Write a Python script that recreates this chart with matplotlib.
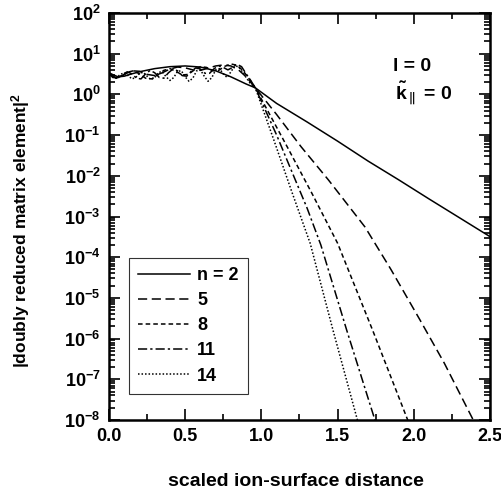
import numpy as np
import matplotlib
matplotlib.use("Agg")
import matplotlib.pyplot as plt
from matplotlib.ticker import FixedLocator, FixedFormatter, LogLocator, NullFormatter, MultipleLocator

plt.rcParams['font.family'] = ['Liberation Sans', 'DejaVu Sans']
plt.rcParams['font.weight'] = 'bold'
plt.rcParams['axes.labelweight'] = 'bold'
plt.rcParams['mathtext.fontset'] = 'custom'
plt.rcParams['mathtext.rm'] = 'Liberation Sans:bold'
plt.rcParams['mathtext.it'] = 'Liberation Sans:bold'
plt.rcParams['mathtext.bf'] = 'Liberation Sans:bold'

# ---- data ----
x_n2 = [0, 0.03, 0.06, 0.1, 0.15, 0.2, 0.3, 0.4, 0.5, 0.6, 0.7, 0.8, 0.9, 0.96,
        1.1, 1.3, 1.5, 1.7, 1.9, 2.1, 2.3, 2.5]
y_n2 = [3.4, 3.0, 2.7, 2.8, 3.2, 3.6, 4.3, 4.8, 5.0, 4.7, 3.8, 2.7, 1.8, 1.45,
        0.6, 0.21, 0.071, 0.023, 0.008, 0.0027, 0.00093, 0.00032]

x_n5 = [0, 0.05, 0.1, 0.15, 0.2, 0.25, 0.3, 0.35, 0.4, 0.45, 0.5, 0.55, 0.6, 0.65,
        0.7, 0.75, 0.8, 0.85, 0.9, 0.96, 1.1, 1.26, 1.44, 1.68, 1.85, 2.04, 2.2, 2.39, 2.42]
y_n5 = [3.3, 2.5, 3.1, 3.8, 3.7, 3.1, 2.9, 3.4, 4.2, 4.7, 4.5, 4.0, 3.9, 4.4,
        5.0, 5.3, 5.0, 4.0, 2.7, 1.45, 0.32, 0.052, 0.0079, 5.5e-4, 5.0e-5, 2.9e-6, 2.5e-7, 1.0e-8, 7e-9]

x_n8 = [0, 0.04, 0.08, 0.12, 0.16, 0.2, 0.24, 0.28, 0.32, 0.36, 0.4, 0.44, 0.48, 0.52,
        0.56, 0.6, 0.64, 0.68, 0.72, 0.76, 0.8, 0.84, 0.88, 0.92, 0.96,
        1.17, 1.33, 1.5, 1.73, 1.96, 2.0]
y_n8 = [3.2, 2.5, 2.7, 3.5, 3.8, 3.2, 2.5, 2.4, 3.0, 3.9, 4.3, 3.7, 3.0, 3.1,
        4.0, 4.8, 4.6, 3.8, 3.9, 4.9, 5.6, 5.2, 3.8, 2.4, 1.45,
        0.051, 0.0038, 2.2e-4, 1.6e-6, 1.0e-8, 4e-9]

x_n11 = [0, 0.03, 0.06, 0.09, 0.12, 0.15, 0.18, 0.21, 0.24, 0.27, 0.3, 0.33, 0.36, 0.39,
         0.42, 0.45, 0.48, 0.51, 0.54, 0.57, 0.6, 0.63, 0.66, 0.69, 0.72, 0.75, 0.78,
         0.81, 0.84, 0.87, 0.9, 0.93, 0.96, 1.1, 1.2, 1.3, 1.39, 1.56, 1.745, 1.78]
y_n11 = [3.1, 2.6, 2.5, 3.1, 3.6, 3.2, 2.5, 2.4, 3.2, 3.9, 3.4, 2.6, 2.5, 3.4,
         4.2, 3.8, 2.9, 2.8, 3.7, 4.5, 4.2, 3.3, 3.3, 4.3, 5.0, 4.6, 4.0,
         4.6, 5.5, 4.8, 3.2, 2.2, 1.45, 0.1, 0.0126, 1.6e-3, 2.0e-4, 1.6e-6, 1.0e-8, 4e-9]

x_n14 = [0, 0.025, 0.05, 0.075, 0.1, 0.125, 0.15, 0.175, 0.2, 0.225, 0.25, 0.275, 0.3,
         0.325, 0.35, 0.375, 0.4, 0.425, 0.45, 0.475, 0.5, 0.525, 0.55, 0.575, 0.6,
         0.625, 0.65, 0.675, 0.7, 0.725, 0.75, 0.775, 0.8, 0.825, 0.85, 0.875, 0.9,
         0.925, 0.96, 1.08, 1.2, 1.32, 1.47, 1.63, 1.66]
y_n14 = [3.0, 2.6, 2.6, 3.1, 3.4, 2.9, 2.4, 2.6, 3.3, 3.5, 2.8, 2.3, 2.6,
         3.5, 3.6, 2.7, 2.2, 2.6, 3.7, 3.8, 2.7, 2.1, 2.5, 3.8, 4.0,
         2.8, 2.1, 2.6, 4.0, 4.3, 3.2, 2.6, 3.6, 5.0, 4.8, 3.6, 2.6,
         1.9, 1.45, 0.079, 4.0e-3, 2.2e-4, 1.6e-6, 1.0e-8, 4e-9]

labels = ["n = 2", "5", "8", "11", "14"]
y_exponents = [2, 1, 0, -1, -2, -3, -4, -5, -6, -7, -8]
x_ticks = [0.0, 0.5, 1.0, 1.5, 2.0, 2.5]
x_ticklabels = ["0.0", "0.5", "1.0", "1.5", "2.0", "2.5"]

# ---- figure ----
fig = plt.figure(figsize=(5.02, 4.95), dpi=100)
ax = fig.add_axes([109/502, 1-420/495, (490-109)/502, (420-13)/495])

styles = ['-', (0, (6, 3)), (0, (3, 2)), (0, (6, 2, 1.5, 2)), (0, (1, 1.3))]
series = [(x_n2, y_n2), (x_n5, y_n5), (x_n8, y_n8), (x_n11, y_n11), (x_n14, y_n14)]
for (xs, ys), ls, lab in zip(series, styles, labels):
    ax.plot(xs, ys, color='black', linestyle=ls, linewidth=1.1, label=lab)

ax.set_yscale('log')
ax.set_xlim(0, 2.5)
ax.set_ylim(1e-8, 1e2)

ax.yaxis.set_major_locator(FixedLocator([10.0**e for e in y_exponents]))
ax.yaxis.set_major_formatter(FixedFormatter([r'$\mathregular{10^{%d}}$' % e for e in y_exponents]))
ax.yaxis.set_minor_locator(LogLocator(base=10, subs=np.arange(2, 10), numticks=100))
ax.yaxis.set_minor_formatter(NullFormatter())

ax.xaxis.set_major_locator(FixedLocator(x_ticks))
ax.xaxis.set_major_formatter(FixedFormatter(x_ticklabels))
ax.xaxis.set_minor_locator(MultipleLocator(0.25))

ax.tick_params(which='both', direction='in', top=True, right=True, width=1.2)
ax.tick_params(which='major', length=8, labelsize=13, pad=6)
ax.tick_params(which='minor', length=4)
for s in ax.spines.values():
    s.set_linewidth(1.8)

ax.set_xlabel('scaled ion-surface distance', fontsize=14)
ax.xaxis.set_label_coords((296 - 109) / 381, (420 - 490) / 407)
ax.xaxis.label.set_va('bottom')
ax.set_ylabel(r'|doubly reduced matrix element|$^2$', fontsize=12.5)
ax.yaxis.set_label_coords((32 - 109) / 381, (420 - 231) / 407)

ax.text(0.745, 0.858, 'l = 0', transform=ax.transAxes, fontsize=14)
ax.text(0.75, 0.79, r'$\tilde{\mathregular{k}}_{\parallel}$ = 0', transform=ax.transAxes, fontsize=14)

leg = ax.legend(loc='upper left', bbox_to_anchor=((129 - 109) / 381, (420 - 258) / 407),
                frameon=True, fancybox=False, shadow=False, fontsize=13, handlelength=2.9,
                handletextpad=0.38, labelspacing=0.45, borderaxespad=0, borderpad=0.5)
leg.get_frame().set_edgecolor('black')
leg.get_frame().set_linewidth(0.8)

fig.savefig('out.png', dpi=100)
